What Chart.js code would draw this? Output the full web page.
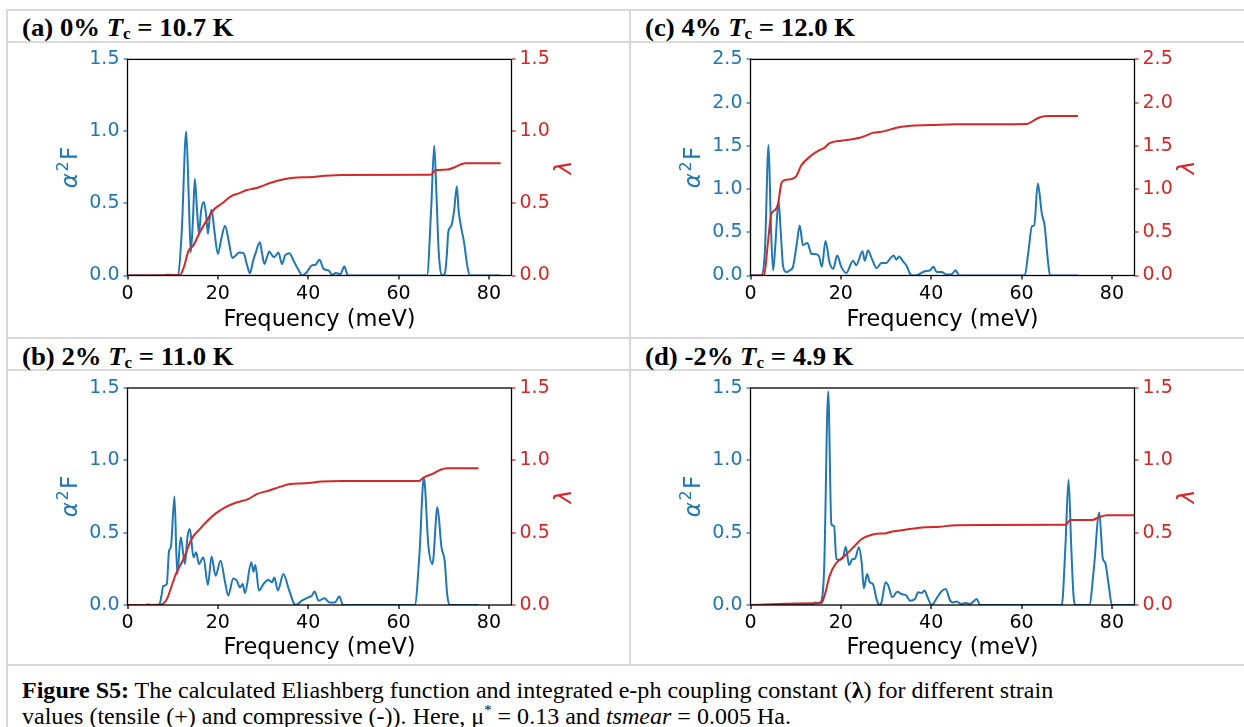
<!DOCTYPE html>
<html>
<head>
<meta charset="utf-8">
<script src="https://cdn.jsdelivr.net/npm/chart.js@4.4.1/dist/chart.umd.min.js"></script>
<style>
  body { margin: 0; background: #fff; width: 1244px; height: 727px; overflow: hidden; position: relative; font-family: "Liberation Serif", "Times New Roman", serif; }
  .rule { position: absolute; background: #d9d9d9; }
  .head { position: absolute; font-weight: bold; font-size: 25px; line-height: 26px; white-space: nowrap; color: #000; transform: scaleX(1.07); transform-origin: 0 0; }
  .head .sub { font-size: 16px; position: relative; top: 3px; font-style: normal; }
  #caption { position: absolute; left: 22px; top: 678px; font-size: 23px; line-height: 26px; white-space: nowrap; color: #000; transform: scaleX(1.045); transform-origin: 0 0; }
  #caption sup { font-size: 14px; position: relative; top: -9px; vertical-align: baseline; }
  canvas { position: absolute; }
</style>
</head>
<body>

<!-- table rules -->
<div class="rule" style="left:6px;top:9px;width:1238px;height:2px"></div>
<div class="rule" style="left:6px;top:41px;width:1238px;height:2px"></div>
<div class="rule" style="left:6px;top:337px;width:1238px;height:2px"></div>
<div class="rule" style="left:6px;top:369px;width:1238px;height:2px"></div>
<div class="rule" style="left:6px;top:664px;width:1238px;height:2px"></div>
<div class="rule" style="left:6px;top:9px;width:2px;height:718px"></div>
<div class="rule" style="left:629px;top:9px;width:2px;height:657px"></div>

<div class="head" style="left:22px;top:14.5px">(a) 0% <i>T</i><span class="sub">c</span> = 10.7 K</div>
<div class="head" style="left:645px;top:14.5px">(c) 4% <i>T</i><span class="sub">c</span> = 12.0 K</div>
<div class="head" style="left:22px;top:343.5px">(b) 2% <i>T</i><span class="sub">c</span> = 11.0 K</div>
<div class="head" style="left:645px;top:343.5px">(d) -2% <i>T</i><span class="sub">c</span> = 4.9 K</div>

<canvas id="chartA"></canvas>
<canvas id="chartC"></canvas>
<canvas id="chartB"></canvas>
<canvas id="chartD"></canvas>

<div id="caption"><b>Figure S5:</b> The calculated Eliashberg function and integrated e-ph coupling constant (<b>λ</b>) for different strain<br>values (tensile (+) and compressive (-)). Here, μ<sup>*</sup> = 0.13 and <i>tsmear</i> = 0.005 Ha.</div>

<script>
// colours (matplotlib tab:blue / tab:red)
const BLUE = '#1f77b4';
const RED = '#d62728';

// shared axis ticks
const xTicks = [0, 20, 40, 60, 80];
const xMax = 85;
const yTicks15 = [0, 0.5, 1.0, 1.5];
const yTicks25 = [0, 0.5, 1.0, 1.5, 2.0, 2.5];

// (a) 0% strain
const freqA = [0, 8, 8.5, 9.5, 10.5, 11.2, 12.0, 13.0, 13.6, 14.0, 14.5, 14.9, 15.4, 15.8, 16.3, 16.9, 17.4, 17.8, 18.2, 18.6, 19.2, 20.0, 20.8, 21.6, 22.4, 23.2, 24.0, 24.7, 25.7, 26.4, 27.1, 27.8, 28.3, 29.3, 29.8, 30.3, 30.9, 31.4, 32.0, 32.5, 33.4, 34.2, 34.9, 35.8, 36.8, 37.5, 38.1, 38.6, 39.7, 40.8, 41.6, 42.5, 43.4, 44.5, 45.3, 46.1, 47.1, 48.0, 48.5, 48.8, 66.3, 67.2, 67.9, 68.4, 68.9, 69.7, 70.3, 70.7, 71.0, 71.7, 72.3, 72.9, 73.3, 73.7, 74.5, 75.2, 75.8, 82.6];
const a2fA = [0, 0, 0.005, 0.005, 0, 0.005, 0.3, 1.0, 0.5, 0.16, 0.4, 0.67, 0.45, 0.29, 0.45, 0.51, 0.42, 0.29, 0.40, 0.457, 0.32, 0.15, 0.26, 0.346, 0.24, 0.122, 0.14, 0.16, 0.155, 0.08, 0.016, 0.10, 0.15, 0.23, 0.15, 0.08, 0.13, 0.166, 0.14, 0.127, 0.16, 0.08, 0.14, 0.155, 0.10, 0.058, 0.025, 0, 0.023, 0.07, 0.074, 0.11, 0.046, 0.035, 0.005, 0.018, 0.01, 0.062, 0.02, 0, 0, 0.45, 0.9, 0.55, 0.16, 0, 0.02, 0.15, 0.3, 0.346, 0.45, 0.62, 0.45, 0.36, 0.23, 0.07, 0, 0];
const lamFreqA = [0, 11.6, 12.5, 13.5, 14.6, 16.0, 17.9, 19.2, 20.9, 22.9, 24.6, 26.4, 28.3, 29.7, 31.9, 34.9, 37.5, 40.1, 43.8, 47.5, 67.1, 68.2, 70.8, 72.3, 73.7, 74.9, 82.6];
const lamA = [0, 0.003, 0.06, 0.17, 0.21, 0.30, 0.40, 0.46, 0.50, 0.55, 0.57, 0.593, 0.605, 0.62, 0.646, 0.67, 0.68, 0.682, 0.692, 0.697, 0.699, 0.73, 0.735, 0.75, 0.77, 0.78, 0.78];

// (c) 4% strain
const freqC = [0, 2.5, 3.2, 4.0, 4.5, 5.0, 5.5, 6.2, 6.7, 7.2, 7.9, 8.7, 9.4, 10.2, 10.9, 11.6, 12.6, 13.5, 14.2, 15.1, 15.8, 16.6, 17.5, 18.3, 19.2, 20.1, 21.2, 22.7, 23.4, 24.8, 25.3, 26.0, 26.9, 27.9, 29.0, 30.1, 30.8, 31.7, 32.3, 32.9, 33.8, 34.5, 35.5, 36.4, 37.5, 38.6, 39.7, 40.5, 41.2, 42.3, 43.4, 44.5, 45.4, 46.2, 60.7, 61.5, 62.3, 62.8, 63.6, 64.5, 65.1, 65.8, 66.3, 72.5];
const a2fC = [0, 0, 0.3, 1.51, 0.6, 0.06, 0.35, 0.865, 0.5, 0.115, 0.04, 0.06, 0.1, 0.35, 0.577, 0.35, 0.377, 0.25, 0.25, 0.23, 0.1, 0.4, 0.15, 0.077, 0.23, 0.1, 0.03, 0.17, 0.12, 0.28, 0.17, 0.29, 0.19, 0.085, 0.146, 0.146, 0.19, 0.23, 0.185, 0.22, 0.16, 0.115, 0.008, 0, 0.02, 0.05, 0.058, 0.1, 0.04, 0.04, 0.012, 0.015, 0.06, 0, 0, 0.27, 0.57, 0.58, 1.065, 0.71, 0.58, 0.19, 0, 0];
const lamFreqC = [0, 3.0, 3.8, 4.6, 5.5, 6.1, 6.8, 7.4, 9.0, 10.1, 11.2, 13.5, 15.3, 16.4, 17.5, 20.1, 21.6, 24.6, 27.1, 29.7, 32.3, 34.9, 40.1, 45.3, 61.2, 62.6, 64.1, 66.0, 72.5];
const lamC = [0, 0.005, 0.35, 0.71, 0.76, 0.83, 1.06, 1.10, 1.115, 1.146, 1.27, 1.39, 1.45, 1.48, 1.53, 1.56, 1.57, 1.60, 1.65, 1.67, 1.71, 1.73, 1.74, 1.75, 1.754, 1.79, 1.83, 1.846, 1.846];

// (b) 2% strain
const freqB = [0, 4.2, 4.6, 5.0, 7.0, 7.5, 7.9, 8.7, 9.2, 9.6, 10.4, 11.0, 11.8, 12.7, 13.3, 13.8, 14.6, 15.2, 15.8, 16.8, 17.8, 18.6, 19.5, 20.6, 21.6, 22.3, 23.4, 24.2, 24.9, 25.5, 26.0, 27.4, 27.9, 28.3, 29.1, 30.1, 31.2, 32.0, 32.5, 33.3, 34.5, 35.7, 36.8, 37.3, 38.6, 40.0, 40.8, 41.4, 42.3, 43.6, 44.7, 45.9, 46.9, 47.7, 63.6, 64.6, 65.6, 66.6, 67.5, 68.6, 69.5, 70.2, 70.8, 71.4, 77.7];
const a2fB = [0, 0, 0.005, 0, 0, 0.06, 0.13, 0.145, 0.375, 0.40, 0.75, 0.214, 0.468, 0.283, 0.475, 0.525, 0.33, 0.364, 0.283, 0.33, 0.138, 0.336, 0.203, 0.306, 0.157, 0.065, 0.184, 0.168, 0.122, 0.145, 0.083, 0.295, 0.23, 0.276, 0.10, 0.145, 0.175, 0.157, 0.19, 0.10, 0.214, 0.11, 0.014, 0, 0.03, 0.053, 0.064, 0.094, 0.03, 0.046, 0.018, 0.018, 0.058, 0, 0, 0.34, 0.88, 0.41, 0.283, 0.675, 0.40, 0.306, 0.065, 0, 0];
const lamFreqB = [0, 7.2, 8.7, 9.8, 10.7, 12.4, 14.2, 16.0, 17.5, 19.4, 21.6, 23.8, 26.8, 28.6, 31.2, 33.4, 36.0, 39.3, 43.0, 47.5, 64.5, 65.6, 67.5, 69.3, 70.8, 77.7];
const lamB = [0, 0.002, 0.04, 0.134, 0.214, 0.318, 0.456, 0.525, 0.576, 0.63, 0.675, 0.705, 0.733, 0.767, 0.79, 0.813, 0.836, 0.841, 0.853, 0.857, 0.857, 0.882, 0.906, 0.935, 0.945, 0.945];

// (d) -2% strain
const freqD = [0, 14.0, 14.2, 14.9, 15.5, 16.3, 17.2, 17.9, 18.5, 19.0, 19.7, 20.5, 21.1, 21.8, 22.6, 23.1, 24.0, 24.6, 25.1, 25.8, 26.4, 27.1, 27.9, 28.5, 29.0, 29.9, 30.5, 31.4, 32.5, 33.4, 34.5, 35.3, 36.4, 37.1, 37.9, 38.5, 39.2, 40.1, 41.2, 42.2, 43.2, 44.2, 44.9, 45.6, 46.7, 47.6, 48.6, 50.1, 50.8, 68.9, 69.7, 70.4, 71.0, 71.5, 71.9, 75.0, 76.0, 77.2, 78.0, 78.5, 79.3, 80.0, 86];
const a2fD = [0, 0, 0.018, 0.014, 0.018, 0.25, 1.475, 0.56, 0.545, 0.318, 0.313, 0.33, 0.403, 0.276, 0.318, 0.318, 0.40, 0.295, 0.115, 0.214, 0.157, 0.145, 0.041, 0, 0.018, 0.157, 0.134, 0.053, 0.092, 0.076, 0.065, 0.03, 0.041, 0.088, 0.083, 0.10, 0.053, 0, 0.046, 0.092, 0.11, 0.03, 0.018, 0.025, 0.007, 0.014, 0.007, 0.041, 0, 0, 0.4, 0.866, 0.4, 0.065, 0, 0, 0.25, 0.64, 0.318, 0.295, 0.134, 0, 0];
const lamFreqD = [0, 14.2, 15.7, 16.6, 17.5, 18.8, 20.9, 23.1, 24.6, 26.0, 27.9, 29.7, 31.2, 34.9, 38.6, 41.9, 44.5, 51.2, 69.7, 70.8, 75.6, 77.1, 78.9, 86];
const lamD = [0, 0.012, 0.014, 0.088, 0.20, 0.283, 0.341, 0.41, 0.456, 0.477, 0.493, 0.495, 0.507, 0.523, 0.537, 0.541, 0.55, 0.553, 0.555, 0.588, 0.588, 0.606, 0.62, 0.62];

// frame, α²F and λ axis titles
const axisTitles = {
  id: 'axisTitles',
  afterDraw(chart) {
    const { ctx, chartArea: a } = chart;
    const midY = (a.top + a.bottom) / 2;
    ctx.save();
    ctx.strokeStyle = '#000';
    ctx.lineWidth = 1.3;
    ctx.strokeRect(a.left, a.top, a.right - a.left, a.bottom - a.top);

    const big = '23px "DejaVu Sans"';
    const bigIt = 'italic 23px "DejaVu Sans"';
    const small = '16px "DejaVu Sans"';
    ctx.textBaseline = 'middle';
    ctx.textAlign = 'left';

    ctx.save();
    ctx.fillStyle = BLUE;
    ctx.translate(a.left - 56, midY);
    ctx.rotate(-Math.PI / 2);
    ctx.font = bigIt; const wA = ctx.measureText('α').width;
    ctx.font = small; const w2 = ctx.measureText('2').width;
    ctx.font = big; const wF = ctx.measureText('F').width;
    let x = -(wA + w2 + 3 + wF) / 2;
    ctx.font = bigIt; ctx.fillText('α', x, 0); x += wA + 1.5;
    ctx.font = small; ctx.fillText('2', x, -8); x += w2 + 1.5;
    ctx.font = big; ctx.fillText('F', x, 0);
    ctx.restore();

    ctx.save();
    ctx.fillStyle = RED;
    ctx.translate(a.right + 54, midY);
    ctx.rotate(-Math.PI / 2);
    ctx.font = bigIt;
    ctx.textAlign = 'center';
    ctx.fillText('λ', 0, 0);
    ctx.restore();

    ctx.restore();
  }
};

function points(xs, ys) {
  return xs.map((x, i) => ({ x: x, y: ys[i] }));
}

function tickAxis(color) {
  return {
    display: true, drawOnChartArea: false, drawTicks: true,
    tickLength: 4, tickWidth: 1.3, tickColor: color, lineWidth: 0
  };
}

// box = canvas rect on page, plot = wanted plot area on page
function makePanel(id, box, plot, fx, fy, lx, ly, yMax, yTicks) {
  const canvas = document.getElementById(id);
  canvas.style.left = box.x + 'px';
  canvas.style.top = box.y + 'px';
  canvas.width = box.w;
  canvas.height = box.h;

  const leftW = plot.l - box.x;
  const rightW = box.x + box.w - plot.r;
  const topPad = plot.t - box.y;
  const bottomH = box.y + box.h - plot.b;
  const tickFont = { family: 'DejaVu Sans', size: 19 };

  new Chart(canvas, {
    type: 'line',
    data: {
      datasets: [
        { data: points(lx, ly), borderColor: RED, yAxisID: 'y1', order: 0 },
        { data: points(fx, fy), borderColor: BLUE, yAxisID: 'y', order: 1 }
      ]
    },
    options: {
      responsive: false,
      animation: false,
      devicePixelRatio: 1,
      layout: { padding: { top: topPad, left: 0, right: 0, bottom: 0 } },
      plugins: { legend: { display: false }, tooltip: { enabled: false } },
      elements: {
        point: { radius: 0 },
        line: { borderWidth: 2, cubicInterpolationMode: 'monotone', fill: false }
      },
      scales: {
        x: {
          type: 'linear', min: 0, max: xMax,
          afterFit: s => { s.height = bottomH; },
          afterBuildTicks: s => { s.ticks = xTicks.map(v => ({ value: v })); },
          ticks: { color: '#000', font: tickFont, padding: 3, maxRotation: 0, callback: v => String(v) },
          grid: tickAxis('#000'),
          border: { display: false },
          title: { display: true, text: 'Frequency (meV)', color: '#000', font: { family: 'DejaVu Sans', size: 22.5 }, padding: { top: 0, bottom: 2 } }
        },
        y: {
          type: 'linear', position: 'left', min: 0, max: yMax,
          afterFit: s => { s.width = leftW; },
          afterBuildTicks: s => { s.ticks = yTicks.map(v => ({ value: v })); },
          ticks: { color: BLUE, font: tickFont, padding: 4, callback: v => v.toFixed(1) },
          grid: tickAxis(BLUE),
          border: { display: false }
        },
        y1: {
          type: 'linear', position: 'right', min: 0, max: yMax,
          afterFit: s => { s.width = rightW; },
          afterBuildTicks: s => { s.ticks = yTicks.map(v => ({ value: v })); },
          ticks: { color: RED, font: tickFont, padding: 4, callback: v => v.toFixed(1) },
          grid: tickAxis(RED),
          border: { display: false }
        }
      }
    },
    plugins: [axisTitles]
  });
}

makePanel('chartA', { x: 10, y: 44, w: 618, h: 292 }, { l: 127.5, r: 511.5, t: 58.5, b: 275.5 }, freqA, a2fA, lamFreqA, lamA, 1.5, yTicks15);
makePanel('chartC', { x: 633, y: 44, w: 611, h: 292 }, { l: 750.5, r: 1134.5, t: 58.5, b: 275.5 }, freqC, a2fC, lamFreqC, lamC, 2.5, yTicks25);
makePanel('chartB', { x: 10, y: 372, w: 618, h: 292 }, { l: 127.5, r: 511.5, t: 388, b: 605 }, freqB, a2fB, lamFreqB, lamB, 1.5, yTicks15);
makePanel('chartD', { x: 633, y: 372, w: 611, h: 292 }, { l: 750.5, r: 1134.5, t: 388, b: 605 }, freqD, a2fD, lamFreqD, lamD, 1.5, yTicks15);
</script>
</body>
</html>
